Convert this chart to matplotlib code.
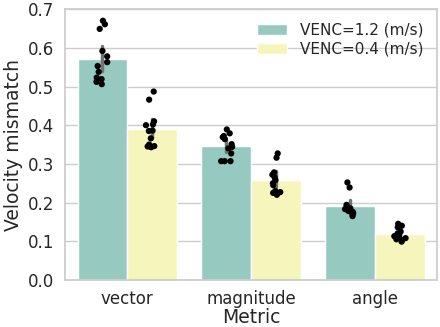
import numpy as np
import pandas as pd
import matplotlib
matplotlib.use("Agg")
import matplotlib.pyplot as plt
import seaborn as sns

metrics = ["vector", "magnitude", "angle"]
venc_labels = ["VENC=1.2 (m/s)", "VENC=0.4 (m/s)"]

# per-case mismatch values
vector_12 = [0.670, 0.661, 0.649, 0.592, 0.578, 0.563, 0.553, 0.538, 0.523, 0.519, 0.512, 0.506]
vector_04 = [0.487, 0.466, 0.410, 0.402, 0.400, 0.386, 0.385, 0.366, 0.350, 0.346, 0.343, 0.345]
magnitude_12 = [0.389, 0.379, 0.372, 0.369, 0.364, 0.351, 0.344, 0.340, 0.327, 0.307, 0.307, 0.307]
magnitude_04 = [0.327, 0.316, 0.278, 0.272, 0.265, 0.258, 0.250, 0.245, 0.230, 0.227, 0.220, 0.225]
angle_12 = [0.252, 0.239, 0.194, 0.188, 0.185, 0.183, 0.180, 0.178, 0.176, 0.172, 0.168, 0.165]
angle_04 = [0.145, 0.140, 0.136, 0.125, 0.120, 0.116, 0.113, 0.110, 0.108, 0.105, 0.103, 0.099]

groups = [
    ("vector", venc_labels[0], vector_12),
    ("vector", venc_labels[1], vector_04),
    ("magnitude", venc_labels[0], magnitude_12),
    ("magnitude", venc_labels[1], magnitude_04),
    ("angle", venc_labels[0], angle_12),
    ("angle", venc_labels[1], angle_04),
]
rows = []
for m, v, vals in groups:
    for x in vals:
        rows.append({"Metric": m, "VENC": v, "Velocity mismatch": x})
df = pd.DataFrame(rows)

sns.set_theme(style="whitegrid")
np.random.seed(3)

fig, ax = plt.subplots(figsize=(4.4, 3.27), dpi=100)
sns.barplot(data=df, x="Metric", y="Velocity mismatch", hue="VENC",
            order=metrics, hue_order=venc_labels, palette="Set3",
            err_kws={"color": "0.45", "linewidth": 2.5}, ax=ax)
sns.stripplot(data=df, x="Metric", y="Velocity mismatch", hue="VENC",
              order=metrics, hue_order=venc_labels, dodge=True, jitter=0.1,
              palette=["black", "black"], size=4.5, legend=False, ax=ax)

ax.set_ylim(0, 0.7)
ax.set_xlabel("Metric", fontsize=13.5, labelpad=0)
ax.set_ylabel("Velocity mismatch", fontsize=13.5, labelpad=3)
ax.tick_params(axis="both", labelsize=12, length=0)
ax.tick_params(axis="x", pad=7)
ax.tick_params(axis="y", pad=8)
ax.legend(frameon=False, loc="upper right", fontsize=11, labelspacing=0.25)

plt.subplots_adjust(left=0.148, right=0.993, top=0.972, bottom=0.144)
plt.savefig("out.png", dpi=100)
